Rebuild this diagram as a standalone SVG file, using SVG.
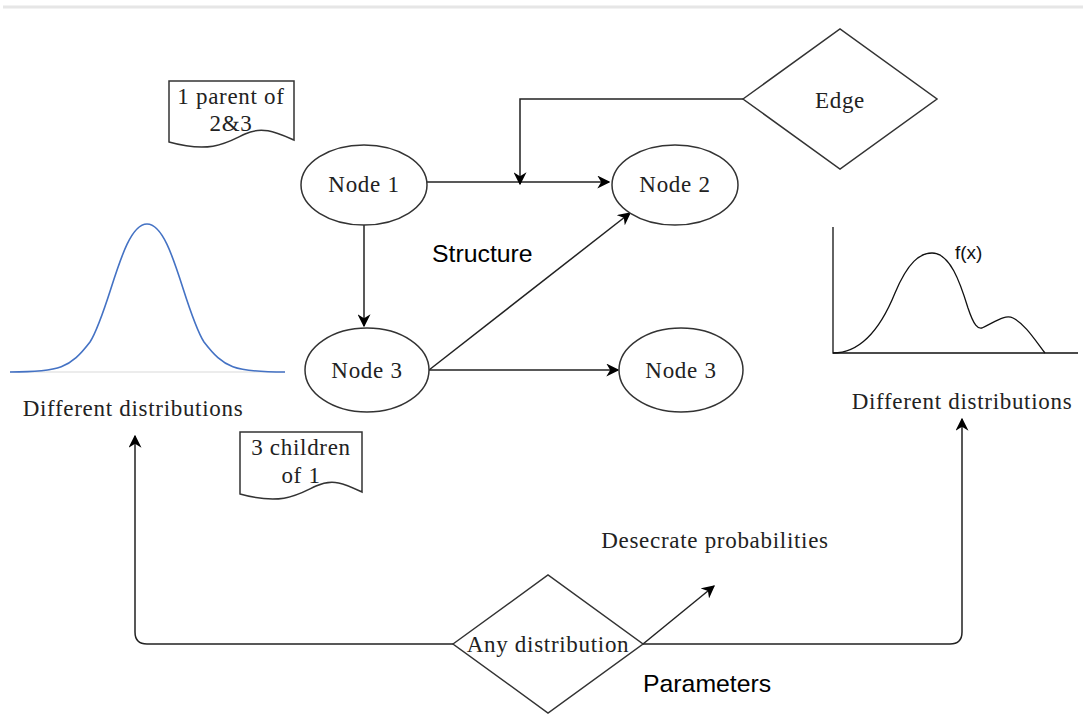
<svg xmlns="http://www.w3.org/2000/svg" width="1083" height="714" viewBox="0 0 1083 714">
<style>
  .shape { fill: #fff; stroke: #333; stroke-width: 1.5; }
  .line { fill: none; stroke: #222; stroke-width: 1.5; }
  .serif { font-family: "Liberation Serif", "DejaVu Serif", serif; font-size: 23px; letter-spacing: 0.7px; fill: #222; text-anchor: middle; }
  .sans { font-family: "Liberation Sans", Arial, sans-serif; font-size: 24.8px; fill: #000; }
</style>
<defs>
  <marker id="arrL" viewBox="0 0 10 10" refX="9" refY="5" markerWidth="13" markerHeight="13" markerUnits="userSpaceOnUse" orient="auto">
    <path d="M0,0 L10,5 L0,10 L3,5 z" fill="#000"/>
  </marker>
</defs>
<rect width="1083" height="714" fill="#fff"/>
<line x1="3" y1="7" x2="1083" y2="7" stroke="#e6e6e6" stroke-width="3"/>

<g id="connectors">
  <line class="line" x1="427" y1="182" x2="609" y2="182" marker-end="url(#arrL)"/>
  <path class="line" d="M743,99 H520 V184" marker-end="url(#arrL)"/>
  <line class="line" x1="364" y1="225" x2="364" y2="326" marker-end="url(#arrL)"/>
  <line class="line" x1="429" y1="370" x2="630" y2="213" marker-end="url(#arrL)"/>
  <line class="line" x1="429" y1="370" x2="618" y2="370" marker-end="url(#arrL)"/>
  <path class="line" d="M453,644 H147 Q135,644 135,632 V436" marker-end="url(#arrL)" stroke="#444" stroke-width="2"/>
  <path class="line" d="M643,644 H950 Q962,644 962,632 V419" marker-end="url(#arrL)" stroke="#444" stroke-width="2"/>
  <line class="line" x1="643" y1="644" x2="714" y2="586" marker-end="url(#arrL)"/>
</g>

<g id="node1">
  <ellipse class="shape" cx="364" cy="185" rx="63" ry="40"/>
  <text class="serif" x="364" y="192">Node 1</text>
</g>
<g id="node2">
  <ellipse class="shape" cx="675" cy="185" rx="63" ry="40"/>
  <text class="serif" x="675" y="192">Node 2</text>
</g>
<g id="node3">
  <ellipse class="shape" cx="367" cy="370" rx="62" ry="42"/>
  <text class="serif" x="367" y="378">Node 3</text>
</g>
<g id="node3b">
  <ellipse class="shape" cx="681" cy="370" rx="62" ry="42"/>
  <text class="serif" x="681" y="378">Node 3</text>
</g>

<g id="edge">
  <polygon class="shape" points="743,99 840,29 937,99 840,169"/>
  <text class="serif" x="840" y="108">Edge</text>
</g>

<g id="anydist">
  <polygon class="shape" points="453,644 548,575 643,644 548,713"/>
  <text class="serif" x="548" y="652">Any distribution</text>
</g>

<g id="note1">
  <path class="shape" d="M169,81 H294 V140 C275,132 262,126 245,134 C228,142 212,154 169,142 Z"/>
  <text class="serif" x="231" y="104">1 parent of</text>
  <text class="serif" x="231" y="131">2&amp;3</text>
</g>

<g id="note2">
  <path class="shape" d="M240,432 H362 V492 C345,484 333,478 316,486 C299,494 283,506 240,494 Z"/>
  <text class="serif" x="301" y="455">3 children</text>
  <text class="serif" x="301" y="483">of 1</text>
</g>

<g id="gaussian">
  <line x1="10" y1="372" x2="285" y2="372" stroke="#e6e6e6" stroke-width="1.5"/>
  <path d="M10,372 C60,372 70,368 90,342 C110,310 122,224 147,224 C172,224 184,310 204,342 C224,368 234,372 285,372" fill="none" stroke="#4472c4" stroke-width="1.6"/>
  <text class="serif" x="133" y="416">Different distributions</text>
</g>

<g id="fx">
  <path d="M833,227 V353 H1078" fill="none" stroke="#111" stroke-width="1.3"/>
  <path d="M833,353 C860,353 880,330 895,293 C908,262 920,253 932,253 C950,253 960,282 968,308 C974,326 978,329 982,328 C995,322 1005,314 1013,318 C1025,324 1035,340 1045,353" fill="none" stroke="#111" stroke-width="1.3"/>
  <text x="955" y="259" font-family="Liberation Sans, Arial, sans-serif" font-size="19" fill="#111">f(x)</text>
  <text class="serif" x="962" y="409">Different distributions</text>
</g>

<text class="sans" x="432" y="262">Structure</text>
<text class="serif" x="715" y="548">Desecrate probabilities</text>
<text class="sans" x="643" y="692">Parameters</text>
</svg>
